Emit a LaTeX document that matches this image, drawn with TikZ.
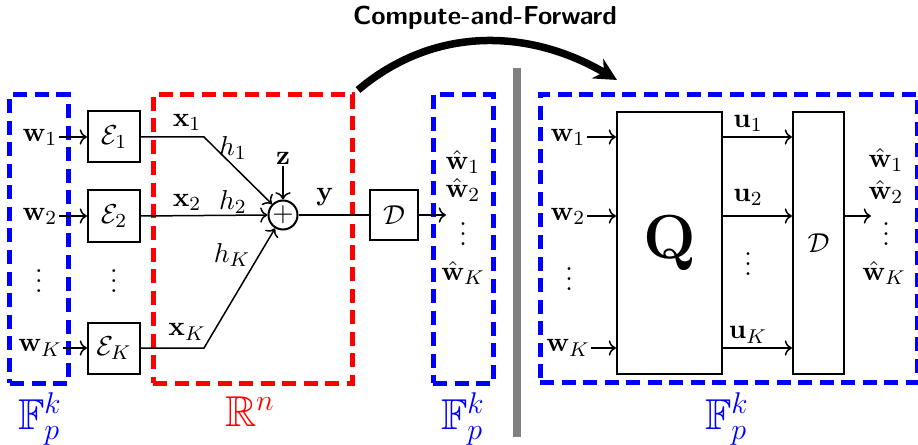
\documentclass[tikz,border=0pt]{standalone}
\usepackage{amsmath,amssymb}
\usepackage{tikz}
\usetikzlibrary{arrows.meta,positioning,calc}
\tikzset{
  enc/.style={draw=black, line width=0.8pt, inner sep=0pt,
    minimum width=20.8pt, minimum height=20.4pt},
  tall/.style={draw=black, line width=0.8pt, inner sep=0pt,
    minimum height=104.8pt},
  field/.style={draw=blue, line width=2pt, dash pattern=on 5.6pt off 3pt,
    inner sep=0pt, minimum height=115.2pt},
  reals/.style={field, draw=red},
  setlbl/.style={font=\LARGE, inner sep=0pt},
  lbl/.style={inner sep=0.5pt},
  dotcol/.style={inner sep=0pt, text height=8.6pt, text depth=0pt},
  sumnode/.style={circle, draw=black, line width=0.8pt, inner sep=0pt,
    minimum size=11.6pt},
  sig/.style={->, line width=0.6pt},
  wire/.style={line width=0.6pt},
  cfarrow/.style={-{Stealth[length=9pt, width=9pt]}, line width=3pt},
  sepbar/.style={draw=gray, line width=3.2pt}
}

\begin{document}
\begin{tikzpicture}[x=0.4pt, y=-0.4pt, font=\fontsize{10.8}{13}\selectfont]
  \useasboundingbox (0,0) rectangle (918,445);

  % encoders and channel
  \node[field, minimum width=23.2pt] (Fin) at (39,239) {};
  \node[reals, minimum width=79.6pt] (Rn) at (252.5,239) {};
  \node[setlbl, text=blue, anchor=north] (FinL) at (40,392) {$\mathbb{F}_p^k$};
  \node[setlbl, text=red, anchor=north] (RnL) at (250,396) {$\mathbb{R}^n$};

  \node[lbl] (w1) at (40,137) {$\mathbf{w}_1$};
  \node[lbl] (w2) at (40,216) {$\mathbf{w}_2$};
  \node[dotcol] (wdots) at (39,282) {$\vdots$};
  \node[lbl] (wK) at (40,348) {$\mathbf{w}_K$};

  \node[enc] (E1) at (114,137) {$\mathcal{E}_1$};
  \node[enc] (E2) at (114,216) {$\mathcal{E}_2$};
  \node[dotcol] (Edots) at (114,282) {$\vdots$};
  \node[enc] (EK) at (114,348) {$\mathcal{E}_K$};

  \foreach \i in {1,2,K}
    \draw[sig] (w\i.east) -- (E\i.west);

  \node[sumnode] (sum) at (283,215) {$+$};
  \coordinate (b1) at (204,137);
  \coordinate (bK) at (204,348);
  \node[lbl] (z) at (283,158) {$\mathbf{z}$};

  \draw[sig] (E1.east) -- (b1) -- (sum);
  \draw[sig] (E2.east) -- (sum.west);
  \draw[sig] (EK.east) -- (bK) -- (sum);
  \draw[sig] (z.south) -- (sum.north);

  \node[lbl] (x1) at (187,122) {$\mathbf{x}_1$};
  \node[lbl] (x2) at (187,202) {$\mathbf{x}_2$};
  \node[lbl] (xK) at (187,332) {$\mathbf{x}_K$};
  \node[lbl] (h1) at (233,148) {$h_1$};
  \node[lbl] (h2) at (233,202) {$h_2$};
  \node[lbl] (hK) at (232,255) {$h_K$};
  \node[lbl] (ylab) at (325,197) {$\mathbf{y}$};

  \node[enc, minimum width=19.2pt, minimum height=20pt] (D) at (394,215) {$\mathcal{D}$};
  \draw[wire] (sum.east) -- (D.west);

  \node[field, minimum width=24pt] (Fmid) at (463,239) {};
  \node[setlbl, text=blue, anchor=north] (FmidL) at (463,392) {$\mathbb{F}_p^k$};
  \coordinate (dout) at (446,215);
  \draw[sig] (D.east) -- (dout);
  \node[lbl] (hw1) at (463,162) {$\hat{\mathbf{w}}_1$};
  \node[lbl] (hw2) at (463,190) {$\hat{\mathbf{w}}_2$};
  \node[dotcol] (hwdots) at (463,235) {$\vdots$};
  \node[lbl] (hwK) at (463,273) {$\hat{\mathbf{w}}_K$};

  % separator
  \coordinate (sepT) at (517,68);
  \coordinate (sepB) at (517,437);
  \draw[sepbar] (sepT) -- (sepB);

  % equivalent model
  \node[field, minimum width=150.8pt] (Fout) at (728.5,238.5) {};
  \node[setlbl, text=blue, anchor=north] (FoutL) at (727,392) {$\mathbb{F}_p^k$};

  \node[lbl] (qw1) at (568,137) {$\mathbf{w}_1$};
  \node[lbl] (qw2) at (568,216) {$\mathbf{w}_2$};
  \node[dotcol] (qwdots) at (569,280) {$\vdots$};
  \node[lbl] (qwK) at (568,348) {$\mathbf{w}_K$};

  \node[tall, minimum width=42pt] (Q) at (669.5,243) {\Huge$\mathbf{Q}$};
  \node[tall, minimum width=20.4pt] (D2) at (818.5,243) {$\mathcal{D}$};

  \foreach \i in {1,2,K}
    \draw[sig] (qw\i.east) -- (qw\i.east -| Q.west);
  \foreach \i in {1,2,K}
    \draw[sig] (qw\i -| Q.east) -- (qw\i -| D2.west);

  \node[lbl] (u1) at (748,123) {$\mathbf{u}_1$};
  \node[lbl] (u2) at (748,197) {$\mathbf{u}_2$};
  \node[dotcol] (udots) at (748,265) {$\vdots$};
  \node[lbl] (uK) at (748,335) {$\mathbf{u}_K$};

  \coordinate (rout) at (871,216);
  \draw[sig] (qw2 -| D2.east) -- (rout);
  \node[lbl] (rw1) at (886,160) {$\hat{\mathbf{w}}_1$};
  \node[lbl] (rw2) at (886,192) {$\hat{\mathbf{w}}_2$};
  \node[dotcol] (rwdots) at (886,235) {$\vdots$};
  \node[lbl] (rwK) at (884,273) {$\hat{\mathbf{w}}_K$};

  % compute-and-forward arrow
  \node[font=\sffamily\bfseries\fontsize{10.4}{12}\selectfont] (cf) at (485,18) {Compute-and-Forward};
  \coordinate (cfA) at (358,90);
  \coordinate (cfB) at (617,80);
  \draw[cfarrow] (cfA) .. controls (435,25) and (530,29) .. (cfB);
\end{tikzpicture}
\end{document}
